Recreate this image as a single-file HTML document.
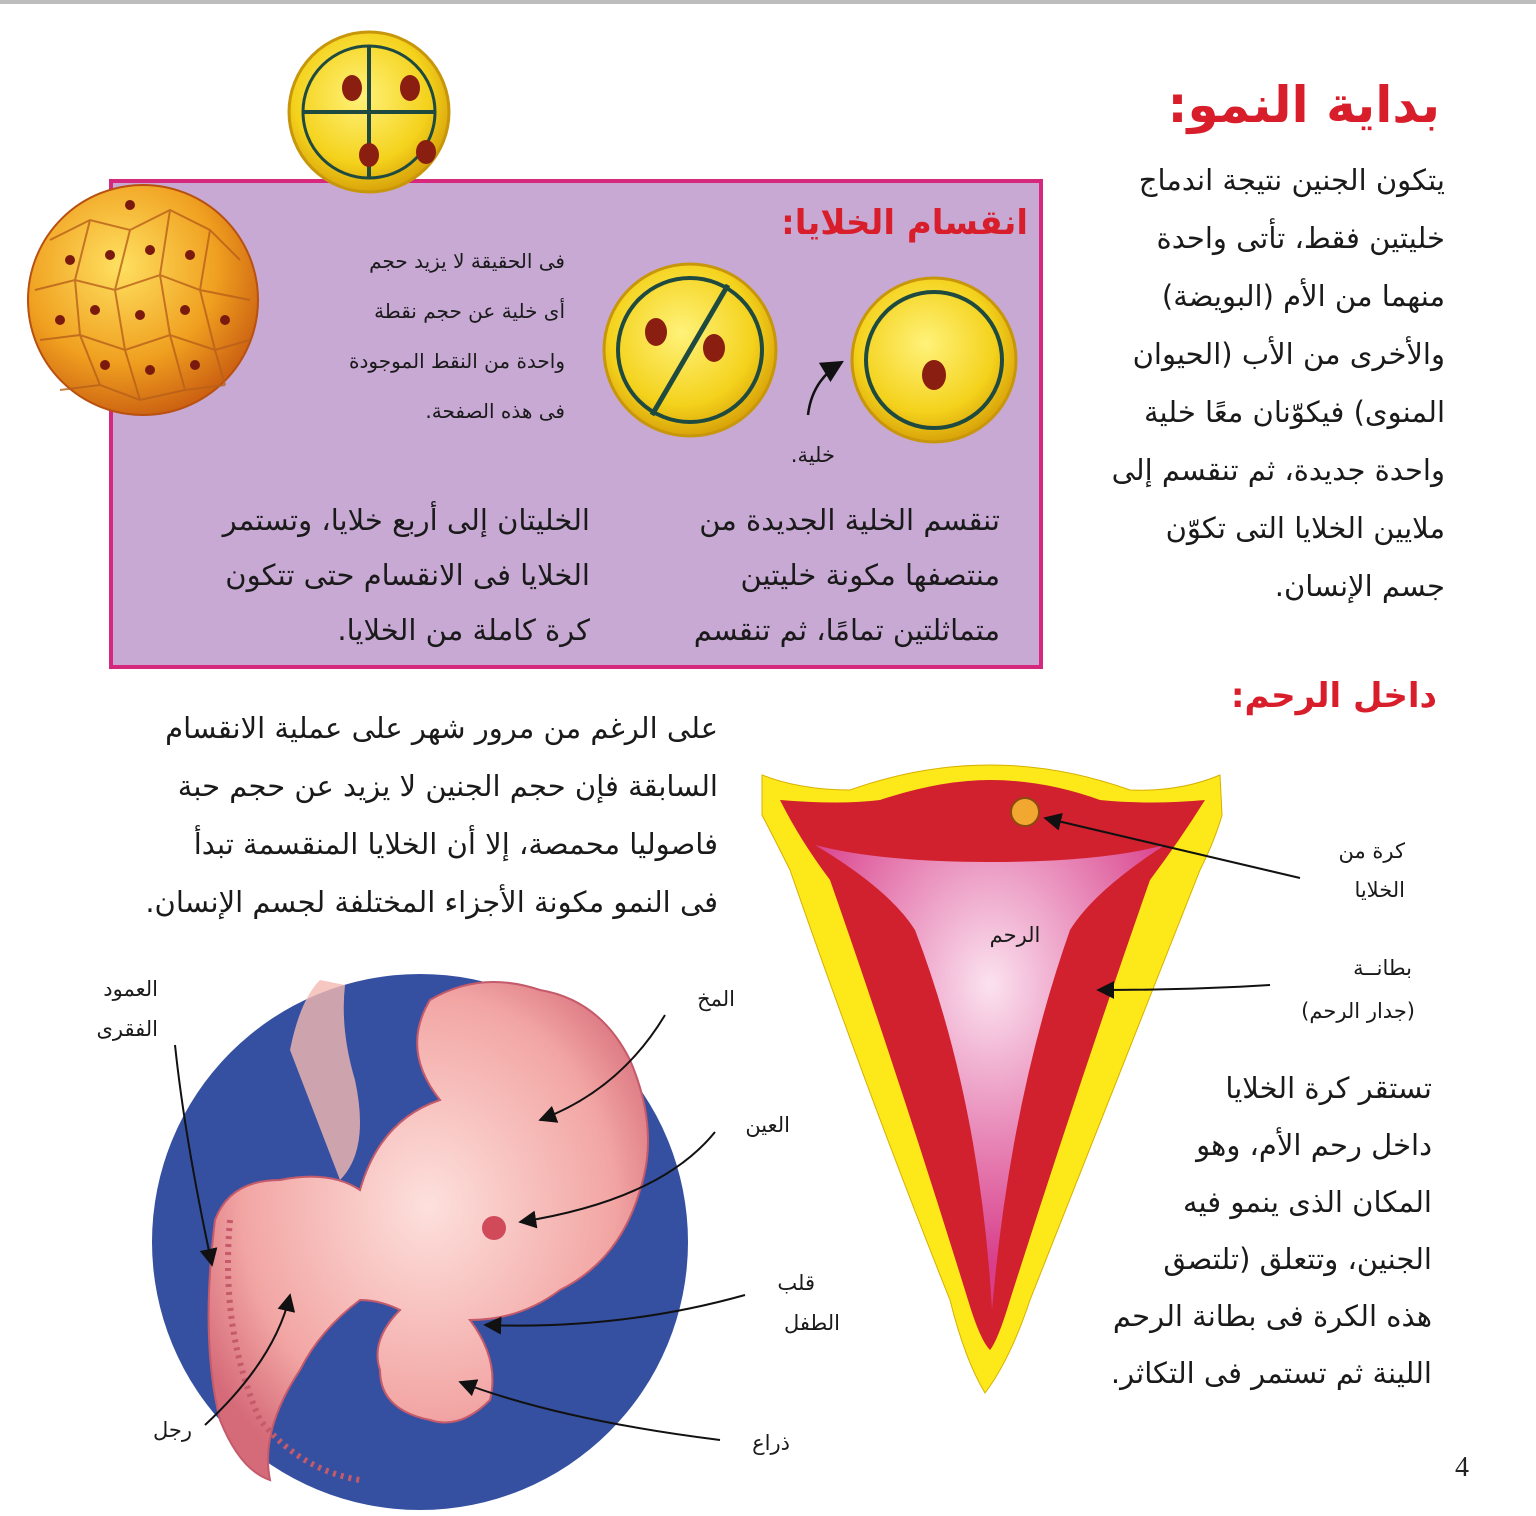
<!DOCTYPE html>
<html><head><meta charset="utf-8"><style>
html,body{margin:0;padding:0;background:#fff}
svg{display:block}
text{font-family:"DejaVu Sans","Liberation Sans",sans-serif;direction:rtl}
.t{font-size:29px;fill:#1a1a1a}
.s{font-size:20px;fill:#1a1a1a}
.l{font-size:21px;fill:#1a1a1a}
.h{font-size:50px;font-weight:bold;fill:#d81e2a}
.h2{font-size:34px;font-weight:bold;fill:#d81e2a}
</style></head><body>
<svg width="1536" height="1516" viewBox="0 0 1536 1516" xmlns="http://www.w3.org/2000/svg">
<defs>
<radialGradient id="cell" cx="45%" cy="40%" r="60%"><stop offset="0" stop-color="#fff27a"/><stop offset="0.7" stop-color="#f4d21c"/><stop offset="1" stop-color="#d9a40a"/></radialGradient>
<radialGradient id="mor" cx="40%" cy="35%" r="70%"><stop offset="0" stop-color="#ffe060"/><stop offset="0.6" stop-color="#f0a020"/><stop offset="1" stop-color="#c85a10"/></radialGradient>
<radialGradient id="uter" cx="50%" cy="30%" r="60%"><stop offset="0" stop-color="#fbe2ef"/><stop offset="1" stop-color="#d83e8a"/></radialGradient>
<radialGradient id="emb" cx="50%" cy="45%" r="60%"><stop offset="0" stop-color="#fde0dc"/><stop offset="0.7" stop-color="#f2a6a4"/><stop offset="1" stop-color="#d56a78"/></radialGradient>
<marker id="ar" viewBox="0 0 10 10" refX="9" refY="5" markerWidth="9" markerHeight="9" orient="auto"><path d="M0,0 L10,5 L0,10 z" fill="#111"/></marker>
</defs>
<rect x="0" y="0" width="1536" height="4" fill="#bdbdbd"/>

<rect x="111" y="181" width="930" height="486" fill="#c7a9d4" stroke="#d6287c" stroke-width="4"/>

<circle cx="369" cy="112" r="80" fill="url(#cell)" stroke="#c8960a" stroke-width="3"/>
<circle cx="369" cy="112" r="66" fill="none" stroke="#1f4a40" stroke-width="3"/>
<line x1="369" y1="46" x2="369" y2="178" stroke="#1f4a40" stroke-width="4"/>
<line x1="303" y1="112" x2="435" y2="112" stroke="#1f4a40" stroke-width="4"/>
<ellipse cx="352" cy="88" rx="10" ry="13" fill="#8a1e10"/><ellipse cx="410" cy="88" rx="10" ry="13" fill="#8a1e10"/>
<ellipse cx="369" cy="155" rx="10" ry="12" fill="#8a1e10"/><ellipse cx="426" cy="152" rx="10" ry="12" fill="#8a1e10"/>

<circle cx="690" cy="350" r="86" fill="url(#cell)" stroke="#c8960a" stroke-width="3"/>
<circle cx="690" cy="350" r="72" fill="none" stroke="#1f4a40" stroke-width="4"/>
<line x1="728" y1="285" x2="652" y2="415" stroke="#1f4a40" stroke-width="5"/>
<ellipse cx="656" cy="332" rx="11" ry="14" fill="#8a1e10"/><ellipse cx="714" cy="348" rx="11" ry="14" fill="#8a1e10"/>

<circle cx="934" cy="360" r="82" fill="url(#cell)" stroke="#c8960a" stroke-width="3"/>
<circle cx="934" cy="360" r="68" fill="none" stroke="#1f4a40" stroke-width="4"/>
<ellipse cx="934" cy="375" rx="12" ry="15" fill="#8a1e10"/>
<path d="M808,415 Q812,380 842,362" fill="none" stroke="#111" stroke-width="2.5" marker-end="url(#ar)"/>

<circle cx="143" cy="300" r="115" fill="url(#mor)" stroke="#b85010" stroke-width="2"/>
<g fill="none" stroke="#b8601a" stroke-width="2" opacity="0.8">
<path d="M50,240 L90,220 L130,230 L170,210 L210,230 L240,260"/>
<path d="M35,290 L75,280 L115,290 L160,275 L200,290 L250,300"/>
<path d="M40,340 L80,335 L125,350 L170,335 L215,350 L250,340"/>
<path d="M60,390 L100,385 L140,400 L185,390 L225,385"/>
<path d="M90,220 L75,280 L80,335 L100,385"/><path d="M130,230 L115,290 L125,350 L140,400"/>
<path d="M170,210 L160,275 L170,335 L185,390"/><path d="M210,230 L200,290 L215,350 L225,385"/>
</g>
<g fill="#7a1a0e">
<circle cx="110" cy="255" r="5"/><circle cx="150" cy="250" r="5"/><circle cx="190" cy="255" r="5"/><circle cx="95" cy="310" r="5"/><circle cx="140" cy="315" r="5"/><circle cx="185" cy="310" r="5"/><circle cx="225" cy="320" r="5"/><circle cx="105" cy="365" r="5"/><circle cx="150" cy="370" r="5"/><circle cx="195" cy="365" r="5"/><circle cx="60" cy="320" r="5"/><circle cx="70" cy="260" r="5"/><circle cx="130" cy="205" r="5"/>
</g>

<text class="h" x="1440" y="122" text-anchor="start">بداية النمو:</text>
<text class="h2" x="1028" y="234" text-anchor="start">انقسام الخلايا:</text>
<text class="h2" x="1437" y="707" text-anchor="start">داخل الرحم:</text>

<text class="t" x="1445" y="190" text-anchor="start">يتكون الجنين نتيجة اندماج</text>
<text class="t" x="1445" y="248" text-anchor="start">خليتين فقط، تأتى واحدة</text>
<text class="t" x="1445" y="306" text-anchor="start">منهما من الأم (البويضة)</text>
<text class="t" x="1445" y="364" text-anchor="start">والأخرى من الأب (الحيوان</text>
<text class="t" x="1445" y="422" text-anchor="start">المنوى) فيكوّنان معًا خلية</text>
<text class="t" x="1445" y="480" text-anchor="start">واحدة جديدة، ثم تنقسم إلى</text>
<text class="t" x="1445" y="538" text-anchor="start">ملايين الخلايا التى تكوّن</text>
<text class="t" x="1445" y="596" text-anchor="start">جسم الإنسان.</text>

<text class="s" x="565" y="268" text-anchor="start">فى الحقيقة لا يزيد حجم</text>
<text class="s" x="565" y="318" text-anchor="start">أى خلية عن حجم نقطة</text>
<text class="s" x="565" y="368" text-anchor="start">واحدة من النقط الموجودة</text>
<text class="s" x="565" y="418" text-anchor="start">فى هذه الصفحة.</text>
<text class="l" x="835" y="462" text-anchor="start">خلية.</text>

<text class="t" x="1000" y="530" text-anchor="start">تنقسم الخلية الجديدة من</text>
<text class="t" x="1000" y="585" text-anchor="start">منتصفها مكونة خليتين</text>
<text class="t" x="1000" y="640" text-anchor="start">متماثلتين تمامًا، ثم تنقسم</text>
<text class="t" x="590" y="530" text-anchor="start">الخليتان إلى أربع خلايا، وتستمر</text>
<text class="t" x="590" y="585" text-anchor="start">الخلايا فى الانقسام حتى تتكون</text>
<text class="t" x="590" y="640" text-anchor="start">كرة كاملة من الخلايا.</text>

<text class="t" x="718" y="738" text-anchor="start">على الرغم من مرور شهر  على عملية الانقسام</text>
<text class="t" x="718" y="796" text-anchor="start">السابقة فإن حجم الجنين لا يزيد عن حجم حبة</text>
<text class="t" x="718" y="854" text-anchor="start">فاصوليا محمصة، إلا أن الخلايا المنقسمة تبدأ</text>
<text class="t" x="718" y="912" text-anchor="start">فى النمو مكونة الأجزاء المختلفة لجسم الإنسان.</text>

<path d="M762,775 Q800,790 850,790 Q920,765 990,765 Q1060,765 1130,790 Q1180,792 1220,775 L1222,815 Q1215,840 1200,870 Q1110,1100 1030,1300 Q1010,1360 985,1393 Q965,1360 950,1300 Q870,1100 790,870 Q770,830 762,815 Z" fill="#fde81a" stroke="#d7b000" stroke-width="1"/>
<path d="M780,800 Q840,805 880,800 Q940,780 990,780 Q1045,780 1100,800 Q1150,805 1205,800 Q1180,840 1150,880 Q1080,1080 1010,1300 Q998,1340 990,1350 Q980,1340 968,1300 Q900,1080 830,880 Q800,840 780,800 Z" fill="#d1202e"/>
<path d="M815,845 Q880,862 990,862 Q1100,862 1165,845 Q1095,890 1070,930 Q1010,1100 992,1310 Q980,1100 915,930 Q890,890 815,845 Z" fill="url(#uter)"/>
<circle cx="1025" cy="812" r="14" fill="#f2a830" stroke="#8a4a10" stroke-width="2"/>
<text class="l" x="1015" y="942" text-anchor="middle" style="direction:ltr">الرحم</text>
<path d="M1300,878 Q1180,850 1045,818" fill="none" stroke="#111" stroke-width="2" marker-end="url(#ar)"/>
<path d="M1270,985 Q1190,990 1098,990" fill="none" stroke="#111" stroke-width="2" marker-end="url(#ar)"/>
<text class="l" x="1405" y="858" text-anchor="start">كرة من</text>
<text class="l" x="1405" y="897" text-anchor="start">الخلايا</text>
<text class="l" x="1412" y="975" text-anchor="start">بطانــة</text>
<text class="l" x="1415" y="1018" text-anchor="start">(جدار الرحم)</text>

<text class="t" x="1432" y="1098" text-anchor="start">تستقر كرة الخلايا</text>
<text class="t" x="1432" y="1155" text-anchor="start">داخل رحم الأم، وهو</text>
<text class="t" x="1432" y="1212" text-anchor="start">المكان الذى ينمو فيه</text>
<text class="t" x="1432" y="1269" text-anchor="start">الجنين، وتتعلق (تلتصق</text>
<text class="t" x="1432" y="1326" text-anchor="start">هذه الكرة فى بطانة الرحم</text>
<text class="t" x="1432" y="1383" text-anchor="start">اللينة ثم تستمر فى التكاثر.</text>

<circle cx="420" cy="1242" r="268" fill="#3550a0"/>
<path d="M290,1050 Q300,1000 320,980 L345,985 Q340,1030 355,1080 Q370,1150 340,1180 Z" fill="#f4b8b0" opacity="0.8"/>
<path d="M215,1220 Q230,1180 280,1180 Q330,1170 360,1190 Q380,1120 440,1100 Q400,1050 430,1000 Q480,970 540,990 Q600,1000 630,1060 Q660,1130 640,1190 Q620,1260 560,1290 Q520,1320 470,1320 Q500,1360 490,1400 Q460,1430 430,1420 Q380,1410 380,1370 Q370,1340 400,1310 Q380,1300 360,1300 Q320,1330 300,1370 Q260,1430 270,1480 Q240,1470 220,1420 Q200,1340 215,1220 Z" fill="url(#emb)" stroke="#c45a6a" stroke-width="2"/>
<circle cx="494" cy="1228" r="12" fill="#d04a5a"/>
<path d="M230,1220 Q220,1330 260,1420 Q300,1470 360,1480" fill="none" stroke="#c45a6a" stroke-width="6" stroke-dasharray="3 5"/>

<g fill="none" stroke="#111" stroke-width="2">
<path d="M175,1045 Q185,1140 212,1265" marker-end="url(#ar)"/>
<path d="M665,1015 Q620,1090 540,1120" marker-end="url(#ar)"/>
<path d="M715,1132 Q660,1200 520,1222" marker-end="url(#ar)"/>
<path d="M745,1295 Q620,1330 485,1325" marker-end="url(#ar)"/>
<path d="M720,1440 Q560,1420 460,1382" marker-end="url(#ar)"/>
<path d="M205,1425 Q275,1360 290,1295" marker-end="url(#ar)"/>
</g>
<text class="l" x="158" y="996" text-anchor="start">العمود</text>
<text class="l" x="158" y="1036" text-anchor="start">الفقرى</text>
<text class="l" x="735" y="1006" text-anchor="start">المخ</text>
<text class="l" x="790" y="1132" text-anchor="start">العين</text>
<text class="l" x="815" y="1290" text-anchor="start">قلب</text>
<text class="l" x="840" y="1330" text-anchor="start">الطفل</text>
<text class="l" x="790" y="1450" text-anchor="start">ذراع</text>
<text class="l" x="192" y="1437" text-anchor="start">رجل</text>

<text x="1455" y="1476" style="font-family:'Liberation Serif',serif;font-size:28px;direction:ltr" fill="#222">4</text>
</svg>
</body></html>
